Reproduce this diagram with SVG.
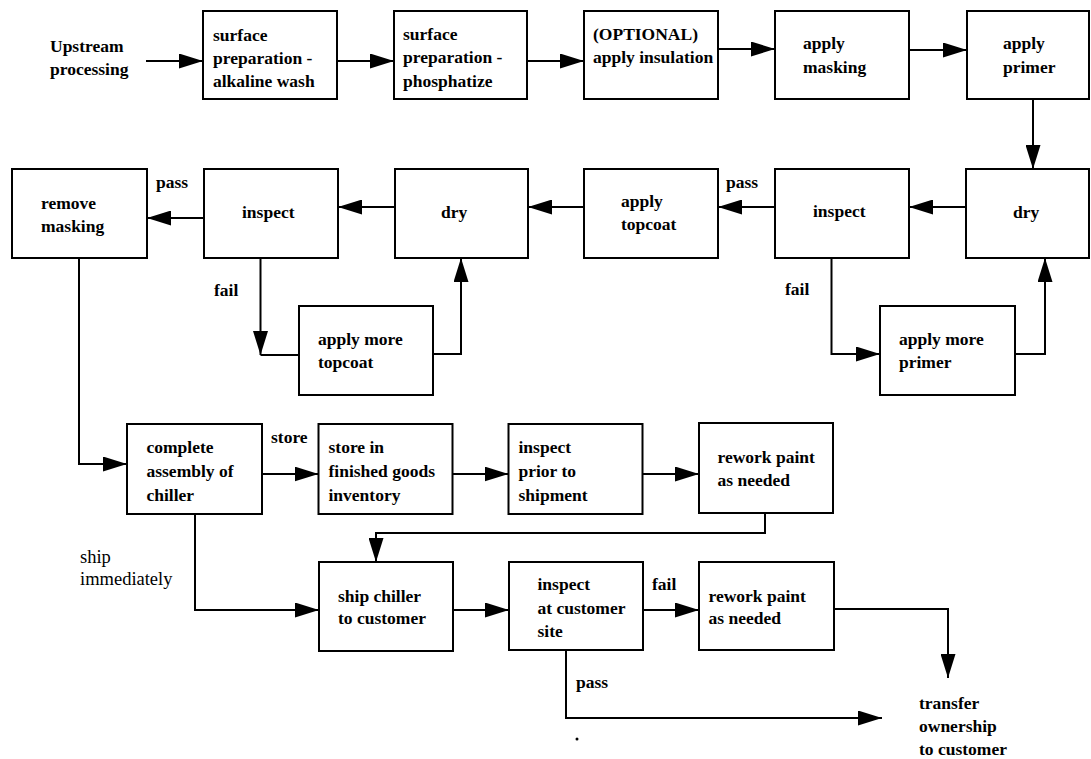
<svg xmlns="http://www.w3.org/2000/svg" width="1091" height="759" viewBox="0 0 1091 759">
  <style>
    .box { fill: #ffffff; stroke: #000000; stroke-width: 2; }
    .t { font-family: "Liberation Serif", "Times New Roman", serif; font-size: 17.5px; font-weight: bold; fill: #000000; }
    .lt { font-family: "Liberation Serif", "Times New Roman", serif; font-size: 18.5px; fill: #000000; }
    .conn { fill: none; stroke: #000000; stroke-width: 2; }
    .arr { marker-end: url(#ah); }
  </style>
  <defs>
    <marker id="ah" markerUnits="userSpaceOnUse" viewBox="0 0 24 15" markerWidth="24" markerHeight="15" refX="24" refY="7.5" orient="auto">
      <path d="M0,0 L24,7.5 L0,15 z" fill="#000000"/>
    </marker>
  </defs>
  <rect width="1091" height="759" fill="#ffffff"/>

  <!-- connectors -->
  <g id="connectors">
    <path class="conn arr" d="M146,61 H203"/>
    <path class="conn arr" d="M337,61 H394"/>
    <path class="conn arr" d="M527,61 H584"/>
    <path class="conn arr" d="M718,49 H775"/>
    <path class="conn arr" d="M909,50 H967"/>
    <path class="conn arr" d="M1033,99 V169"/>
    <path class="conn arr" d="M966,207 H909"/>
    <path class="conn arr" d="M775,207 H718"/>
    <path class="conn arr" d="M584,207 H528"/>
    <path class="conn arr" d="M395,207 H338"/>
    <path class="conn arr" d="M204,218 H147"/>
    <path class="conn arr" d="M260.5,258 V355"/>
    <path class="conn" d="M260.5,355 H299"/>
    <path class="conn arr" d="M433,354 H461 V258"/>
    <path class="conn arr" d="M831.5,258 V354 H880"/>
    <path class="conn arr" d="M1015,354 H1045 V258"/>
    <path class="conn arr" d="M79,258 V464 H127"/>
    <path class="conn arr" d="M262,474 H318.5"/>
    <path class="conn arr" d="M452.5,474 H508.5"/>
    <path class="conn arr" d="M642.5,474 H699"/>
    <path class="conn arr" d="M765,513 V533 H376 V562"/>
    <path class="conn arr" d="M195,514 V610 H319"/>
    <path class="conn arr" d="M453,610 H509"/>
    <path class="conn arr" d="M643,610 H699"/>
    <path class="conn arr" d="M834,609 H948 V678"/>
    <path class="conn arr" d="M566,650 V718 H882"/>
  </g>

  <!-- free labels -->
  <g id="upstream">
    <text class="t" x="50" y="52">Upstream</text>
    <text class="t" x="50" y="75">processing</text>
  </g>
  <g id="labels">
    <text class="t" x="156" y="188">pass</text>
    <text class="t" x="726" y="188">pass</text>
    <text class="t" x="214" y="296">fail</text>
    <text class="t" x="785" y="295">fail</text>
    <text class="t" x="271" y="443">store</text>
    <text class="lt" x="80" y="563">ship</text>
    <text class="lt" x="80" y="585">immediately</text>
    <text class="t" x="652" y="590">fail</text>
    <text class="t" x="576" y="688">pass</text>
  </g>
  <circle cx="577" cy="739" r="1.5" fill="#000000"/>

  <!-- top row -->
  <g id="alkaline-wash">
    <rect class="box" x="203" y="11" width="134" height="88"/>
    <text class="t" x="213" y="40.5">surface</text>
    <text class="t" x="213" y="64">preparation -</text>
    <text class="t" x="213" y="87">alkaline wash</text>
  </g>
  <g id="phosphatize">
    <rect class="box" x="394" y="11" width="133" height="88"/>
    <text class="t" x="403" y="39.5">surface</text>
    <text class="t" x="403" y="63">preparation -</text>
    <text class="t" x="403" y="86.5">phosphatize</text>
  </g>
  <g id="insulation">
    <rect class="box" x="584" y="11" width="134" height="88"/>
    <text class="t" x="593" y="39.5">(OPTIONAL)</text>
    <text class="t" x="593" y="63">apply insulation</text>
  </g>
  <g id="masking">
    <rect class="box" x="775" y="11" width="134" height="88"/>
    <text class="t" x="803" y="49">apply</text>
    <text class="t" x="803" y="73">masking</text>
  </g>
  <g id="primer">
    <rect class="box" x="967" y="11" width="122" height="88"/>
    <text class="t" x="1003" y="49">apply</text>
    <text class="t" x="1003" y="73">primer</text>
  </g>

  <!-- middle row -->
  <g id="remove-masking">
    <rect class="box" x="12" y="169" width="135" height="89"/>
    <text class="t" x="41" y="209">remove</text>
    <text class="t" x="41" y="232">masking</text>
  </g>
  <g id="inspect-topcoat">
    <rect class="box" x="204" y="169" width="134" height="89"/>
    <text class="t" x="242" y="218">inspect</text>
  </g>
  <g id="dry-topcoat">
    <rect class="box" x="395" y="169" width="133" height="89"/>
    <text class="t" x="441" y="218">dry</text>
  </g>
  <g id="topcoat">
    <rect class="box" x="584" y="169" width="134" height="89"/>
    <text class="t" x="621" y="207">apply</text>
    <text class="t" x="621" y="230">topcoat</text>
  </g>
  <g id="inspect-primer">
    <rect class="box" x="775" y="169" width="134" height="89"/>
    <text class="t" x="813" y="217">inspect</text>
  </g>
  <g id="dry-primer">
    <rect class="box" x="966" y="169" width="123" height="89"/>
    <text class="t" x="1013" y="218">dry</text>
  </g>
  <g id="more-topcoat">
    <rect class="box" x="299" y="306" width="134" height="89"/>
    <text class="t" x="318" y="345">apply more</text>
    <text class="t" x="318" y="368">topcoat</text>
  </g>
  <g id="more-primer">
    <rect class="box" x="880" y="306" width="135" height="89"/>
    <text class="t" x="899" y="345">apply more</text>
    <text class="t" x="899" y="368">primer</text>
  </g>

  <!-- assembly row -->
  <g id="assembly">
    <rect class="box" x="127" y="424" width="135" height="90"/>
    <text class="t" x="146.5" y="453">complete</text>
    <text class="t" x="146.5" y="477">assembly of</text>
    <text class="t" x="146.5" y="500.5">chiller</text>
  </g>
  <g id="store">
    <rect class="box" x="318.5" y="424" width="134" height="90"/>
    <text class="t" x="328.5" y="453">store in</text>
    <text class="t" x="328.5" y="477">finished goods</text>
    <text class="t" x="328.5" y="500.5">inventory</text>
  </g>
  <g id="inspect-shipment">
    <rect class="box" x="508.5" y="424" width="134" height="90"/>
    <text class="t" x="518.5" y="453">inspect</text>
    <text class="t" x="518.5" y="477">prior to</text>
    <text class="t" x="518.5" y="500.5">shipment</text>
  </g>
  <g id="rework-store">
    <rect class="box" x="699" y="423" width="134" height="90"/>
    <text class="t" x="717.5" y="463">rework paint</text>
    <text class="t" x="717.5" y="486">as needed</text>
  </g>

  <!-- shipping row -->
  <g id="ship">
    <rect class="box" x="319" y="562" width="134" height="89"/>
    <text class="t" x="338" y="601.5">ship chiller</text>
    <text class="t" x="338" y="623.5">to customer</text>
  </g>
  <g id="inspect-site">
    <rect class="box" x="509" y="562" width="134" height="88"/>
    <text class="t" x="537.5" y="590">inspect</text>
    <text class="t" x="537.5" y="613.5">at customer</text>
    <text class="t" x="537.5" y="636.5">site</text>
  </g>
  <g id="rework-site">
    <rect class="box" x="699" y="562" width="135" height="88"/>
    <text class="t" x="708.5" y="601.5">rework paint</text>
    <text class="t" x="708.5" y="623.5">as needed</text>
  </g>
  <g id="transfer">
    <text class="t" x="919" y="708.5">transfer</text>
    <text class="t" x="919" y="731.5">ownership</text>
    <text class="t" x="919" y="755">to customer</text>
  </g>
</svg>
